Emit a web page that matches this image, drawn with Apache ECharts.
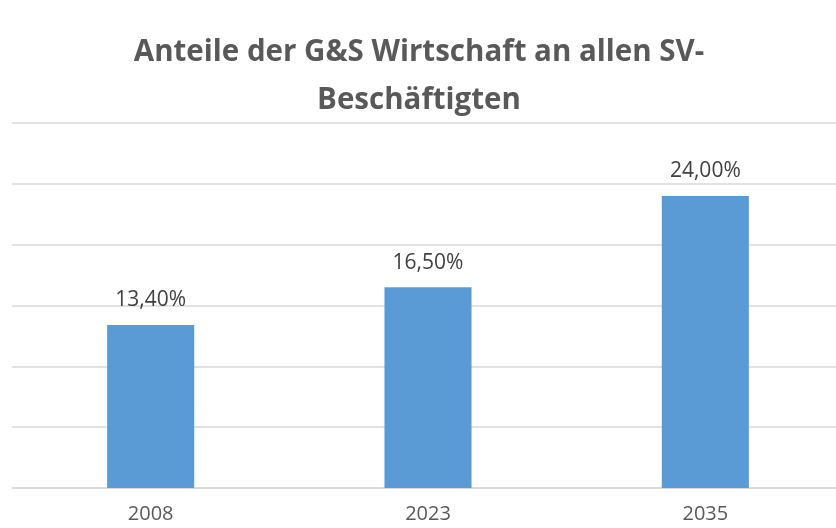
<!DOCTYPE html>
<html>
<head>
<meta charset="utf-8">
<script src="https://cdn.jsdelivr.net/npm/echarts@6/dist/echarts.min.js"></script>
<style>
  html, body { margin: 0; padding: 0; background: #fff; }
  #chart { width: 836px; height: 528px; }
</style>
</head>
<body>
<div id="chart"></div>
<script>
// data
var years = ['2008', '2023', '2035'];
var shares = [13.4, 16.5, 24.0];

var chart = echarts.init(document.getElementById('chart'));

var option = {
  backgroundColor: '#fff',
  animation: false,
  title: {
    text: 'Anteile der G&S Wirtschaft an allen SV-\nBeschäftigten',
    left: 414,
    top: 24,
    textAlign: 'center',
    textStyle: {
      fontFamily: 'Open Sans',
      fontWeight: 'bold',
      fontSize: 29.5,
      lineHeight: 48,
      color: '#595959'
    }
  },
  grid: { left: 12, width: 832, top: 123, bottom: 40, outerBoundsMode: 'none' },
  xAxis: {
    type: 'category',
    data: years,
    axisLine: { lineStyle: { color: '#d9d9d9', width: 1.5 } },
    axisTick: { show: false },
    axisLabel: { color: '#595959', fontSize: 20, fontFamily: 'Open Sans', margin: 16 }
  },
  yAxis: {
    type: 'value',
    min: 0,
    max: 30,
    interval: 5,
    axisLabel: { show: false },
    axisLine: { show: false },
    axisTick: { show: false },
    splitLine: { lineStyle: { color: '#d9d9d9', width: 1.5 } }
  },
  series: [{
    type: 'bar',
    data: shares,
    barWidth: '31.4%',
    itemStyle: { color: '#5b9bd5' },
    label: {
      show: true,
      position: 'top',
      distance: 14,
      color: '#404040',
      fontSize: 21,
      fontFamily: 'Open Sans',
      formatter: function (p) { return p.value.toFixed(2).replace('.', ',') + '%'; }
    }
  }]
};

chart.setOption(option);
</script>
</body>
</html>
